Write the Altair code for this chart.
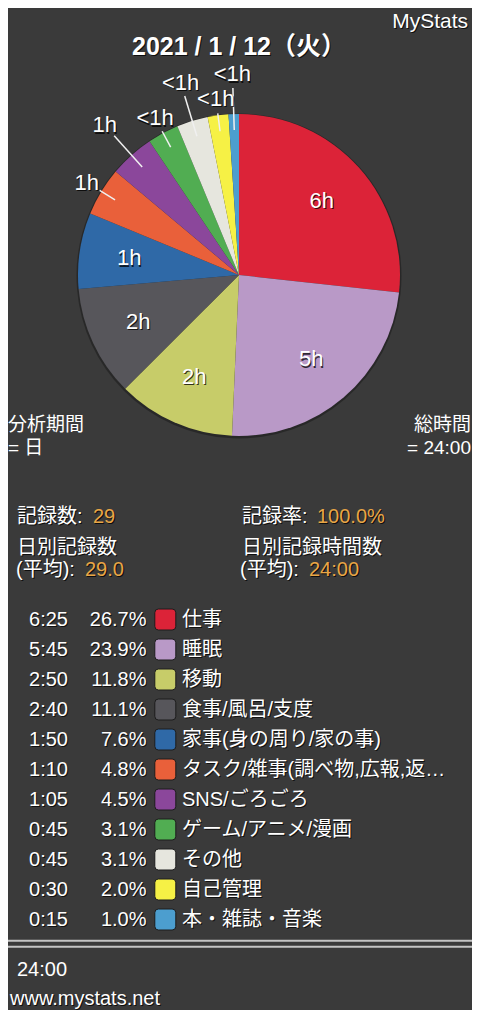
import math
import altair as alt
import pandas as pd

# ---------------- data ----------------
categories = ["仕事", "睡眠", "移動", "食事/風呂/支度", "家事(身の周り/家の事)",
              "タスク/雑事(調べ物,広報,返…", "SNS/ごろごろ", "ゲーム/アニメ/漫画",
              "その他", "自己管理", "本・雑誌・音楽"]
minutes = [385, 345, 170, 160, 110, 70, 65, 45, 45, 30, 15]
time_labels = ["6:25", "5:45", "2:50", "2:40", "1:50", "1:10", "1:05",
               "0:45", "0:45", "0:30", "0:15"]
pct_labels = ["26.7%", "23.9%", "11.8%", "11.1%", "7.6%", "4.8%", "4.5%",
              "3.1%", "3.1%", "2.0%", "1.0%"]
slice_labels = ["6h", "5h", "2h", "2h", "1h", "1h", "1h", "<1h", "<1h", "<1h", "<1h"]
colors = ["#dc2338", "#b999c7", "#c7cc69", "#57565b", "#2f69a7", "#e9603a",
          "#8b479b", "#51ad52", "#e6e6de", "#f6f145", "#4c9ecf"]

brand_text = "MyStats"
title_text = "2021 / 1 / 12（火）"
period_lines = ["分析期間", "= 日"]
total_lines = ["総時間", "= 24:00"]
record_count = ["記録数: ", "29"]
record_rate = ["記録率: ", "100.0%"]
daily_count = ["日別記録数", "(平均): ", "29.0"]
daily_hours = ["日別記録時間数", "(平均): ", "24:00"]
sum_text = "24:00"
footer_text = "www.mystats.net"

# ---------------- style / layout ----------------
FONT = "Liberation Sans, 'Noto Sans CJK JP', sans-serif"
BG = "#3a3a3a"
WHITE = "#ffffff"
ORANGE = "#e9a646"
W, H = 464, 1002
CX, CY, R = 231, 267, 161

n = len(categories)
total = sum(minutes)
color_scale = alt.Scale(domain=categories, range=colors)

pie_df = pd.DataFrame({"category": categories, "minutes": minutes, "order": list(range(n))})

pie_shadow = alt.Chart(pie_df).mark_arc(outerRadius=R + 1.5, color="#000000", opacity=0.3).encode(
    theta=alt.Theta("minutes:Q", stack=True),
    order=alt.Order("order:Q"),
    x=alt.value(CX), y=alt.value(CY + 1),
)
pie = alt.Chart(pie_df).mark_arc(outerRadius=R).encode(
    theta=alt.Theta("minutes:Q", stack=True),
    color=alt.Color("category:N", scale=color_scale, legend=None),
    order=alt.Order("order:Q"),
    x=alt.value(CX), y=alt.value(CY),
)

# slice labels and leader lines, placed from the cumulative angles of the data
lab_rows, line_rows = [], []
cum = 0
outer_k = 0
for lab, m in zip(slice_labels, minutes):
    a = 2 * math.pi * (cum + m / 2) / total
    cum += m
    if m / total >= 0.06:
        r_lab = R * 0.69
    else:
        long = outer_k % 2 == 1
        outer_k += 1
        r0, r1 = 145, (187 if long else 163)
        r_lab = 201 if long else 178
        line_rows.append({"x1": CX + r0 * math.sin(a), "y1": CY - r0 * math.cos(a),
                          "x2": CX + r1 * math.sin(a), "y2": CY - r1 * math.cos(a)})
    lab_rows.append({"label": lab, "lx": CX + r_lab * math.sin(a), "ly": CY - r_lab * math.cos(a)})
lab_df = pd.DataFrame(lab_rows)
line_df = pd.DataFrame(line_rows)

leaders = alt.Chart(line_df).mark_rule(color="#f0f0f0", strokeWidth=1.5).encode(
    x=alt.X("x1:Q", scale=None), y=alt.Y("y1:Q", scale=None),
    x2="x2:Q", y2="y2:Q",
)


def slice_text(color, dx=0, dy=0, opacity=1.0):
    return alt.Chart(lab_df).mark_text(
        font=FONT, fontSize=22, align="center", baseline="middle",
        color=color, dx=dx, dy=dy, opacity=opacity,
    ).encode(x=alt.X("lx:Q", scale=None), y=alt.Y("ly:Q", scale=None), text="label:N")


slice_labels_layers = [slice_text("#000000", 1, 1.5, 0.75), slice_text(WHITE)]

# legend table
leg_df = pd.DataFrame({"category": categories, "time": time_labels, "pct": pct_labels})
row_y = alt.Y("category:N", axis=None,
              scale=alt.Scale(type="point", domain=categories, range=[611.5, 911.5], padding=0))


def leg_text(field, x, align, color, dx=0, dy=0, opacity=1.0):
    return alt.Chart(leg_df).mark_text(
        font=FONT, fontSize=20, align=align, baseline="middle",
        color=color, dx=dx, dy=dy, opacity=opacity,
    ).encode(x=alt.value(x), y=row_y, text=f"{field}:N")


rounded = ("M -0.65,-1 L 0.65,-1 Q 1,-1 1,-0.65 L 1,0.65 Q 1,1 0.65,1 "
           "L -0.65,1 Q -1,1 -1,0.65 L -1,-0.65 Q -1,-1 -0.65,-1 Z")
swatches = alt.Chart(leg_df).mark_point(
    shape=rounded, filled=True, size=441, opacity=1, stroke="#1c1c1c", strokeWidth=1,
).encode(
    x=alt.value(157.3), y=row_y,
    fill=alt.Color("category:N", scale=color_scale, legend=None),
)

legend_layers = []
for field, x, align in [("time", 60, "right"), ("pct", 138.5, "right"), ("category", 174, "left")]:
    legend_layers.append(leg_text(field, x, align, "#000000", 1, 1.2, 0.7))
    legend_layers.append(leg_text(field, x, align, WHITE))
legend_layers.insert(4, swatches)


def label(s, x, y, size=20, color=WHITE, align="left", weight="normal", shadow=True, baseline="middle"):
    d = pd.DataFrame({"t": [s]})
    out = []
    if shadow:
        out.append(alt.Chart(d).mark_text(
            font=FONT, fontSize=size, fontWeight=weight, align=align, baseline=baseline,
            color="#000000", opacity=0.75, dx=1, dy=1.3,
        ).encode(text="t:N", x=alt.value(x), y=alt.value(y)))
    out.append(alt.Chart(d).mark_text(
        font=FONT, fontSize=size, fontWeight=weight, align=align, baseline=baseline, color=color,
    ).encode(text="t:N", x=alt.value(x), y=alt.value(y)))
    return out


texts = []
texts += label(brand_text, 460, 14, size=21, align="right")
texts += label(title_text, 231, 38.5, size=25, weight="bold", align="center")
texts += label(period_lines[0], 0, 417, size=19, shadow=False)
texts += label(period_lines[1], 0, 440, size=19, shadow=False)
texts += label(total_lines[0], 463, 417, size=19, align="right", shadow=False)
texts += label(total_lines[1], 463, 440, size=19, align="right", shadow=False)
texts += label(record_count[0], 9, 509)
texts += label(record_count[1], 85, 509, color=ORANGE)
texts += label(record_rate[0], 234, 509)
texts += label(record_rate[1], 309, 509, color=ORANGE)
texts += label(daily_count[0], 9, 540)
texts += label(daily_count[1], 8, 562)
texts += label(daily_count[2], 77, 562, color=ORANGE)
texts += label(daily_hours[0], 234, 540)
texts += label(daily_hours[1], 232, 562)
texts += label(daily_hours[2], 301, 562, color=ORANGE)
texts += label(sum_text, 9, 962, shadow=False)
texts += label(footer_text, 2, 997, size=20, baseline="alphabetic")

rule_df = pd.DataFrame({"k": [0]})
rules = [
    alt.Chart(rule_df).mark_rule(color="#c4c4c4", strokeWidth=2).encode(
        x=alt.value(-4), x2=alt.value(468), y=alt.value(yy))
    for yy in (932.7, 938.7)
]

layers = [pie_shadow, pie, leaders] + slice_labels_layers + legend_layers + rules + texts

chart = alt.layer(*layers).resolve_scale(
    x="independent", y="independent"
).properties(
    width=W, height=H, background=BG, padding=0,
    autosize=alt.AutoSizeParams(type="none"),
).configure_view(stroke=None)

chart.save("out.html", embed_options={"renderer": "svg", "actions": False})
